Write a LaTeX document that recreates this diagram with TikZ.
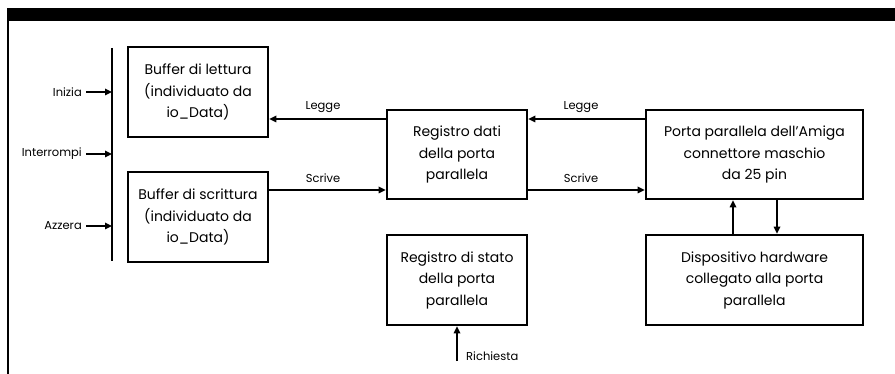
\documentclass[tikz,border=0pt]{standalone}
\usepackage{fontspec}
\setmainfont{Poppins}
\usetikzlibrary{arrows.meta}
\begin{document}
\begin{tikzpicture}[x=1pt,y=-1pt,
  box/.style={draw,line width=2.6pt,align=center,inner sep=0pt,
    font=\fontsize{14}{21.5}\selectfont},
  lbl/.style={inner sep=0pt,font=\fontsize{11.5}{13}\selectfont},
  arr/.style={line width=1.6pt,-{Triangle[length=7pt,width=6.5pt]}},
  frame/.style={line width=2pt}]
\useasboundingbox (0,0) rectangle (895,374);
\fill (7,8) rectangle (895,21);
\draw[frame] (8,21) -- (8,374);
% boxes
\node[box,minimum width=140pt,minimum height=90pt] (bl) at (198,92) {Buffer di lettura\\(individuato da\\io\_Data)};
\node[box,minimum width=140pt,minimum height=90pt] (bs) at (198,217) {Buffer di scrittura\\(individuato da\\io\_Data)};
\node[box,minimum width=140pt,minimum height=89pt] (rd) at (457,154.5) {Registro dati\\della porta\\parallela};
\node[box,minimum width=140pt,minimum height=90pt] (rs) at (457,280) {Registro di stato\\della porta\\parallela};
\node[box,minimum width=217pt,minimum height=89pt] (pp) at (754.5,154.5) {Porta parallela dell'Amiga\\connettore maschio\\da 25 pin};
\node[box,minimum width=217pt,minimum height=90pt] (dh) at (754.5,280) {Dispositivo hardware\\collegato alla porta\\parallela};
% input bar
\coordinate (barT) at (112,48);
\coordinate (barB) at (112,261);
\draw[line width=2pt] (barT) -- (barB);
\node[lbl,anchor=east] (ini) at (82,92) {Inizia};
\node[lbl,anchor=east] (int) at (82,154) {Interrompi};
\node[lbl,anchor=east] (azz) at (82,226) {Azzera};
\draw[arr] ([xshift=4pt]ini.east) -- (ini.east -| barT);
\draw[arr] ([xshift=4pt]int.east) -- (int.east -| barT);
\draw[arr] ([xshift=4pt]azz.east) -- (azz.east -| barT);
% data arrows
\draw[arr] ([yshift=35.5pt]rd.west) -- ([yshift=35.5pt]rd.west -| bl.east);
\draw[arr] ([yshift=-35.5pt]rd.west -| bs.east) -- ([yshift=-35.5pt]rd.west);
\draw[arr] ([yshift=35.5pt]pp.west) -- ([yshift=35.5pt]rd.east);
\draw[arr] ([yshift=-35.5pt]rd.east) -- ([yshift=-35.5pt]pp.west);
\node[lbl] (l1) at (323,107) {Legge};
\node[lbl] (s1) at (323,178) {Scrive};
\node[lbl] (l2) at (581,107) {Legge};
\node[lbl] (s2) at (581,178) {Scrive};
% vertical arrows
\draw[arr] ([xshift=-21.5pt]dh.north) -- ([xshift=-21.5pt]pp.south);
\draw[arr] ([xshift=22.5pt]pp.south) -- ([xshift=22.5pt]dh.north);
\coordinate (rq) at (457,361);
\draw[arr] (rq) -- (rs.south);
\node[lbl,anchor=west] (rql) at (466,356) {Richiesta};
\end{tikzpicture}
\end{document}
